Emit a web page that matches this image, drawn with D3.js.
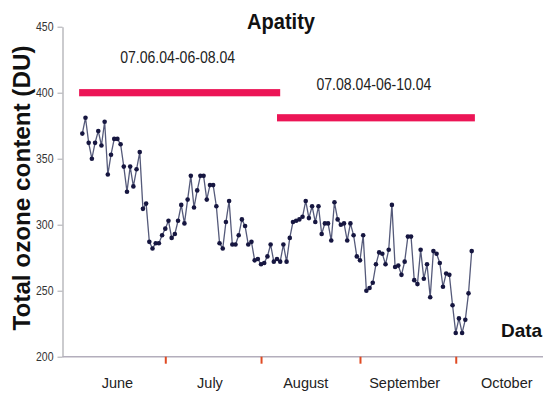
<!DOCTYPE html>
<html>
<head>
<meta charset="utf-8">
<script src="https://cdn.jsdelivr.net/npm/d3@7"></script>
<style>
  html, body { margin: 0; padding: 0; background: #fff; }
  svg { display: block; font-family: "Liberation Sans", Arial, sans-serif; }
</style>
</head>
<body>
<svg id="chart" width="543" height="394"></svg>
<script>
// ---- data ----
const startDate = "2004-06-07";
const ozone = [369,381,362,350,362,371,360,378,338,353,
  365,365,361,344,325,344,329,342,355,312,
  316,287,282,286,286,292,297,303,290,293,
  303,315,301,319,337,313,326,337,337,319,
  330,330,314,286,282,302,318,285,285,292,
  304,299,285,287,273,274,270,271,276,285,
  272,274,272,285,272,290,302,303,304,306,
  318,305,314,302,314,293,301,301,288,317,
  304,300,301,288,301,292,276,273,292,250,
  252,256,270,279,278,270,281,315,268,269,
  262,272,291,291,258,255,281,259,270,245,
  280,278,271,253,263,262,239,218,229,218,
  228,248,280];
const yTicks = [200, 250, 300, 350, 400, 450];
const monthTickDates = ["2004-07-03", "2004-08-02", "2004-09-02", "2004-10-02"];
const monthNames = ["June", "July", "August", "September", "October"];
const monthLabelDates = ["2004-06-18", "2004-07-17", "2004-08-16", "2004-09-16", "2004-10-18"];
const periodLabels = ["07.06.04-06-08.04", "07.08.04-06-10.04"];
const periodStart = ["2004-06-06", "2004-08-07"];
const periodEnd = ["2004-08-08", "2004-10-08"];
const periodLevel = [400, 381];

// ---- setup ----
const parse = d3.utcParse("%Y-%m-%d");
const d0 = parse(startDate);
const data = ozone.map((v, i) => ({ date: d3.utcDay.offset(d0, i), value: v }));

const svg = d3.select("#chart");
const x = d3.scaleUtc()
  .domain([d0, d3.utcDay.offset(d0, ozone.length - 1)])
  .range([82.3, 471.7]);
const y = d3.scaleLinear().domain([200, 450]).range([356.7, 26.7]);

// y axis
const yAxis = svg.append("g")
  .attr("transform", "translate(62.5,0)")
  .call(d3.axisLeft(y).tickValues(yTicks).tickSize(5).tickSizeOuter(0).tickPadding(4));
yAxis.select(".domain").attr("stroke", "#a8a8ae").attr("stroke-width", 1.2);
yAxis.selectAll(".tick line").attr("stroke", "#a8a8ae");
yAxis.selectAll(".tick text")
  .attr("fill", "#333")
  .style("font-size", "12px")
  .attr("textLength", 17.5)
  .attr("lengthAdjust", "spacingAndGlyphs");

// x axis baseline
svg.append("line")
  .attr("x1", 62.5).attr("x2", 543)
  .attr("y1", y(200)).attr("y2", y(200))
  .attr("stroke", "#b3aebc").attr("stroke-width", 1.6);

// month separator ticks (red)
const xAxis = svg.append("g")
  .attr("transform", `translate(0,${y(200)})`)
  .call(d3.axisBottom(x).tickValues(monthTickDates.map(parse)).tickSize(7).tickFormat(""));
xAxis.select(".domain").remove();
xAxis.selectAll(".tick line").attr("stroke", "#e04a22").attr("stroke-width", 2);

// month labels
svg.append("g").selectAll("text")
  .data(monthNames)
  .join("text")
  .attr("x", (d, i) => x(parse(monthLabelDates[i])))
  .attr("y", 387.5)
  .attr("text-anchor", "middle")
  .attr("fill", "#222")
  .style("font-size", "14.5px")
  .text(d => d);

// period bars
const periods = periodLabels.map((l, i) => ({
  label: l, s: parse(periodStart[i]), e: parse(periodEnd[i]), v: periodLevel[i]
}));
svg.append("g").selectAll("rect")
  .data(periods)
  .join("rect")
  .attr("x", d => x(d.s))
  .attr("width", d => x(d.e) - x(d.s))
  .attr("y", d => y(d.v) - 3.6)
  .attr("height", 7.2)
  .attr("fill", "#ec1556");

svg.append("g").selectAll("text")
  .data(periods)
  .join("text")
  .attr("x", d => (x(d.s) + x(d.e)) / 2 - 2)
  .attr("y", (d, i) => y(d.v) - (i === 0 ? 29.5 : 27.5))
  .attr("text-anchor", "middle")
  .attr("fill", "#222")
  .style("font-size", "16px")
  .attr("textLength", 115)
  .attr("lengthAdjust", "spacingAndGlyphs")
  .text(d => d.label);

// data line
svg.append("path")
  .datum(data)
  .attr("fill", "none")
  .attr("stroke", "#555a7a")
  .attr("stroke-width", 1.3)
  .attr("d", d3.line().x(d => x(d.date)).y(d => y(d.value)));

svg.append("g").selectAll("circle")
  .data(data)
  .join("circle")
  .attr("cx", d => x(d.date))
  .attr("cy", d => y(d.value))
  .attr("r", 2.3)
  .attr("fill", "#161640");

// titles
svg.append("text")
  .attr("x", 281).attr("y", 28.5)
  .attr("text-anchor", "middle")
  .attr("font-weight", "bold")
  .attr("fill", "#111")
  .style("font-size", "22px")
  .attr("textLength", 68)
  .attr("lengthAdjust", "spacingAndGlyphs")
  .text("Apatity");

svg.append("text")
  .attr("transform", "translate(29.5,188) rotate(-90)")
  .attr("text-anchor", "middle")
  .attr("font-weight", "bold")
  .attr("fill", "#111")
  .style("font-size", "24px")
  .attr("textLength", 285)
  .attr("lengthAdjust", "spacingAndGlyphs")
  .text("Total ozone content (DU)");

svg.append("text")
  .attr("x", 501).attr("y", 337)
  .attr("font-weight", "bold")
  .attr("fill", "#111")
  .style("font-size", "19px")
  .text("Data");
</script>
</body>
</html>
